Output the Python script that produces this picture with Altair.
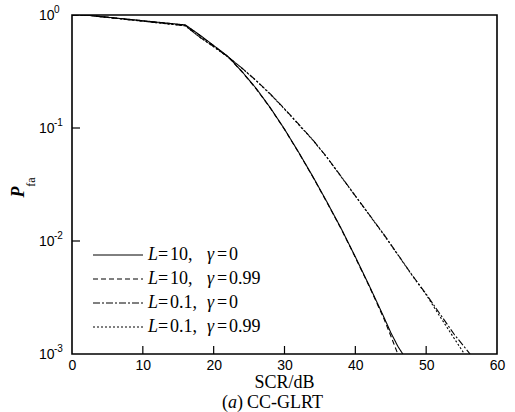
import altair as alt
import pandas as pd

# ---------------- data ----------------
series_names = ["L=10, γ=0", "L=10, γ=0.99", "L=0.1, γ=0", "L=0.1, γ=0.99"]

scr_a = [0, 2, 16, 18, 20, 22, 24, 26, 28, 30, 32, 34, 36, 38, 40, 42, 44, 45, 46, 46.7]
pfa_a = [1.0, 0.998, 0.817, 0.668, 0.537, 0.431, 0.316, 0.224, 0.151, 0.0977, 0.0610,
         0.0372, 0.0221, 0.0129, 0.00724, 0.00398, 0.00214, 0.00155, 0.00117, 0.00100]

scr_b = [0, 2, 16, 18, 20, 22, 24, 26, 28, 30, 32, 34, 36, 38, 40, 42, 44, 45, 46]
pfa_b = [1.0, 0.998, 0.812, 0.662, 0.532, 0.428, 0.314, 0.222, 0.150, 0.0972, 0.0605,
         0.0369, 0.0219, 0.0128, 0.00716, 0.00392, 0.00208, 0.00145, 0.00100]

scr_c = [0, 2, 16, 18, 20, 22, 24, 26, 28, 30, 32, 34, 36, 38, 40, 42, 44, 46, 48, 50, 52, 54, 56.2]
pfa_c = [1.0, 0.998, 0.804, 0.640, 0.525, 0.427, 0.339, 0.263, 0.200, 0.148, 0.108, 0.0785,
         0.0550, 0.0372, 0.0251, 0.0170, 0.0115, 0.00759, 0.00501, 0.00339, 0.00224, 0.00148, 0.00100]

scr_d = [0, 2, 16, 18, 20, 22, 24, 26, 28, 30, 32, 34, 36, 38, 40, 42, 44, 46, 48, 50, 52, 54, 55.4]
pfa_d = [1.0, 0.998, 0.802, 0.638, 0.523, 0.426, 0.338, 0.262, 0.199, 0.147, 0.107, 0.0781,
         0.0548, 0.0370, 0.0250, 0.0169, 0.0114, 0.00755, 0.00498, 0.00335, 0.00212, 0.00136, 0.00100]

x_tick_values = [0, 10, 20, 30, 40, 50, 60]
x_inner_ticks = [10, 20, 30, 40, 50]
y_tick_values = [1.0, 0.1, 0.01, 0.001]
y_tick_exponents = ["0", "-1", "-2", "-3"]
y_inner_ticks = [0.1, 0.01]

legend_L = ["10", "10", "0.1", "0.1"]
legend_g = ["0", "0.99", "0", "0.99"]

x_title = "SCR/dB"
caption_parts = ["(", "a", ")", "CC-GLRT"]

# ---------------- build tables ----------------
rows = []
for name, xs, ys in zip(series_names, [scr_a, scr_b, scr_c, scr_d], [pfa_a, pfa_b, pfa_c, pfa_d]):
    for x, y in zip(xs, ys):
        rows.append({"series": name, "SCR": x, "Pfa": y})
df = pd.DataFrame(rows)

W, H = 425, 339
SERIF = "Liberation Serif"
SANS = "Liberation Sans"

dash_scale = alt.Scale(domain=series_names,
                       range=[[1, 0], [5, 3], [7, 2, 2, 2], [2, 2]])

xscale = alt.Scale(domain=[0, 60], nice=False, zero=False)
yscale = alt.Scale(type="log", domain=[0.001, 1], nice=False)

lines = alt.Chart(df).mark_line(color="black", strokeWidth=1.1, clip=True).encode(
    x=alt.X("SCR:Q", scale=xscale,
            axis=alt.Axis(values=x_tick_values, format="d", ticks=False, tickSize=0,
                          domain=False, grid=False, title=None, labelFont=SANS,
                          labelFontSize=14, labelColor="black", labelPadding=4,
                          labelFlush=False)),
    y=alt.Y("Pfa:Q", scale=yscale, axis=None),
    strokeDash=alt.StrokeDash("series:N", scale=dash_scale, legend=None),
    detail="series:N",
    order="SCR:Q",
)

# inward ticks
xt = alt.Chart(pd.DataFrame({"SCR": x_inner_ticks})).mark_rule(color="black", strokeWidth=1.2).encode(
    x=alt.X("SCR:Q", scale=xscale), y=alt.value(H), y2=alt.value(H - 8))
yt = alt.Chart(pd.DataFrame({"Pfa": y_inner_ticks})).mark_rule(color="black", strokeWidth=1.2).encode(
    y=alt.Y("Pfa:Q", scale=yscale), x=alt.value(0), x2=alt.value(8))

# y tick labels 10^n
ylab_df = pd.DataFrame({"Pfa": y_tick_values, "exp": y_tick_exponents, "base": ["10"] * 4})
ylab_base = alt.Chart(ylab_df).mark_text(align="left", baseline="middle", font=SANS,
                                         fontSize=14, color="black", dy=1).encode(
    y=alt.Y("Pfa:Q", scale=yscale), x=alt.value(-33), text="base:N")
ylab_exp = alt.Chart(ylab_df).mark_text(align="left", baseline="middle", font=SANS,
                                        fontSize=10, color="black", dy=-5).encode(
    y=alt.Y("Pfa:Q", scale=yscale), x=alt.value(-18), text="exp:N")

one = pd.DataFrame({"k": [0]})
ytitle_P = alt.Chart(one).mark_text(text="P", font=SERIF, fontStyle="italic", fontWeight="bold",
                                    fontSize=18, angle=270, align="center", baseline="middle",
                                    color="black").encode(x=alt.value(-53), y=alt.value(177))
ytitle_fa = alt.Chart(one).mark_text(text="fa", font=SERIF, fontSize=12, angle=270,
                                     align="center", baseline="middle",
                                     color="black").encode(x=alt.value(-41), y=alt.value(167))

xtitle = alt.Chart(one).mark_text(text=x_title, font=SERIF, fontSize=18, align="center",
                                  baseline="middle", color="black").encode(
    x=alt.value(W / 2), y=alt.value(368))

cap_x = [150, 156, 165, 175]
cap_italic = [False, True, False, False]
caption_layers = []
for t, cx, it in zip(caption_parts, cap_x, cap_italic):
    caption_layers.append(
        alt.Chart(one).mark_text(text=t, font=SERIF, fontSize=18, align="left", baseline="middle",
                                 fontStyle="italic" if it else "normal", color="black").encode(
            x=alt.value(cx), y=alt.value(388)))

# legend
leg_df = pd.DataFrame({"series": series_names, "idx": list(range(4)),
                       "Lv": legend_L, "gv": legend_g})
leg_base = alt.Chart(leg_df).transform_calculate(ly="240 + 24 * datum.idx",
                                                 lt="datum.Lv + ','")
leg_lines = leg_base.mark_rule(color="black", strokeWidth=1).encode(
    y=alt.Y("ly:Q", scale=None), x=alt.value(21), x2=alt.value(71),
    strokeDash=alt.StrokeDash("series:N", scale=dash_scale, legend=None))


def seg(text_field=None, const=None, x=0, italic=False):
    kw = dict(font=SERIF, fontSize=18, align="left", baseline="middle", color="black",
              fontStyle="italic" if italic else "normal")
    if const is not None:
        kw["text"] = const
    m = leg_base.mark_text(**kw)
    enc = dict(y=alt.Y("ly:Q", scale=None), x=alt.value(x))
    if text_field is not None:
        enc["text"] = alt.Text(text_field + ":N")
    return m.encode(**enc)


leg_texts = [
    seg(const="L", x=76, italic=True),
    seg(const="=", x=86),
    seg(text_field="lt", x=98),
    seg(const="γ", x=135, italic=True),
    seg(const="=", x=145),
    seg(text_field="gv", x=157),
]

chart = alt.layer(
    lines, xt, yt, ylab_base, ylab_exp, ytitle_P, ytitle_fa, xtitle,
    *caption_layers, leg_lines, *leg_texts
).properties(
    width=W, height=H,
    autosize=alt.AutoSizeParams(type="none"),
    padding={"left": 72, "top": 15, "right": 18, "bottom": 58},
    background="white",
).configure_view(stroke="black", strokeWidth=1.6)

chart.save("out.html", embed_options={"renderer": "svg", "actions": False})
